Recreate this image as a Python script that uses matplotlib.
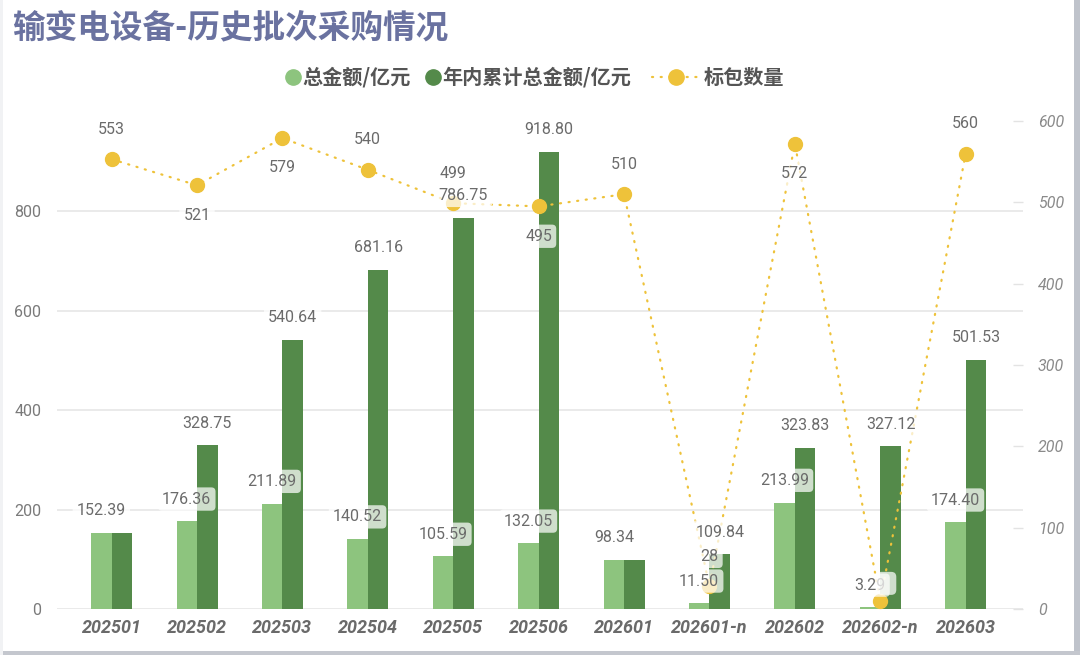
import matplotlib
matplotlib.use("Agg")
import matplotlib.pyplot as plt
from matplotlib.lines import Line2D
from matplotlib.patches import Rectangle, FancyBboxPatch
from matplotlib.transforms import ScaledTranslation
import numpy as np

plt.rcParams['font.family'] = ['Roboto', 'Noto Sans CJK SC', 'DejaVu Sans']

categories = ["202501", "202502", "202503", "202504", "202505", "202506",
              "202601", "202601-n", "202602", "202602-n", "202603"]
total_amount = [152.39, 176.36, 211.89, 140.52, 105.59, 132.05,
                98.34, 11.50, 213.99, 3.29, 174.40]
cumulative_amount = [152.39, 328.75, 540.64, 681.16, 786.75, 918.80,
                     98.34, 109.84, 323.83, 327.12, 501.53]
package_count = [553, 521, 579, 540, 499, 495, 510, 28, 572, 10, 560]
count_label_pos = ["above", "below", "below", "above", "above", "below",
                   "above", "above", "below", "hidden", "above"]

series_names = ["总金额/亿元", "年内累计总金额/亿元", "标包数量"]
title = "输变电设备-历史批次采购情况"
left_ticks = [0, 200, 400, 600, 800]
right_ticks = [0, 100, 200, 300, 400, 500, 600]

LIGHT = "#8DC47E"
DARK = "#548A4A"
YELLOW = "#EEC23A"
GRAY_TXT = "#6B6B6B"
CJK = ["Noto Sans CJK SC", "DejaVu Sans"]

W, H = 1080, 655
fig = plt.figure(figsize=(W / 100, H / 100), dpi=100)
fig.patch.set_facecolor("white")

# card shadow edges
fig.patches.append(Rectangle((1074 / W, 0), 6 / W, 1, transform=fig.transFigure,
                             facecolor="#BFC3CB", edgecolor="none", zorder=0))
fig.patches.append(Rectangle((0, 0), 1, 4 / H, transform=fig.transFigure,
                             facecolor="#C4C7CE", edgecolor="none", zorder=0))
fig.patches.append(Rectangle((0, 0), 3 / W, 1, transform=fig.transFigure,
                             facecolor="#F1F2F4", edgecolor="none", zorder=0))

ax_left, ax_right = 56.5 / W, 1022.5 / W
ax_bottom = (H - 609) / H
ax_top = (H - 121) / H
ax = fig.add_axes([ax_left, ax_bottom, ax_right - ax_left, ax_top - ax_bottom])
ax2 = ax.twinx()

x = np.arange(len(categories))
bw = 0.24
ax.bar(x - bw / 2, total_amount, width=bw, color=LIGHT, zorder=2)
ax.bar(x + bw / 2, cumulative_amount, width=bw, color=DARK, zorder=2)

ax.set_xlim(-0.645, len(categories) - 1 + 0.665)
ax.set_ylim(0, 981)
ax.set_yticks(left_ticks)
ax.grid(axis="y", color="#E6E6E6", linewidth=1.2, zorder=0)
ax.set_axisbelow(True)
for s in ax.spines.values():
    s.set_visible(False)
ax.tick_params(axis="y", length=0, pad=11, labelsize=11.5, labelcolor="#7A7A7A")
ax.set_xticks(x)
ax.set_xticklabels(categories, fontsize=13, fontweight="bold", fontstyle="italic",
                   color="#6A6A6A")
ax.tick_params(axis="x", length=0, pad=7)

# line on secondary axis
ax2.plot(x, package_count, color=YELLOW, linewidth=1.6, linestyle=(0, (0.5, 3.4)),
         dash_capstyle="round", marker="o", markersize=10, markerfacecolor=YELLOW,
         markeredgecolor=YELLOW, zorder=3)
ax2.set_ylim(0, 600)
ax2.set_yticks(right_ticks)
for s in ax2.spines.values():
    s.set_visible(False)
ax2.tick_params(axis="y", direction="in", length=7.3, width=1, color="#E3E3E3", pad=11,
                labelsize=11.5, labelcolor="#8A8A8A")
for lab in ax2.get_yticklabels():
    lab.set_fontstyle("italic")

box = dict(boxstyle="round,pad=0.26", facecolor="white", edgecolor="none", alpha=0.72)

# bar labels (drawn on ax2 so they sit above everything)
for i in range(len(categories)):
    ax2.annotate(f"{total_amount[i]:.2f}", xy=(x[i] - bw / 2, total_amount[i]),
                 xycoords=ax.transData, xytext=(0, 16), textcoords="offset points",
                 ha="center", va="center", fontsize=11.5, color=GRAY_TXT, bbox=box, zorder=5)
    if abs(cumulative_amount[i] - total_amount[i]) > 1e-9:
        ax2.annotate(f"{cumulative_amount[i]:.2f}", xy=(x[i] + bw / 2, cumulative_amount[i]),
                     xycoords=ax.transData, xytext=(0, 16), textcoords="offset points",
                     ha="center", va="center", fontsize=11.5, color=GRAY_TXT, bbox=box, zorder=5)

# line labels
for i, v in enumerate(package_count):
    pos = count_label_pos[i]
    if pos == "hidden":
        # the reference shows only an empty label backdrop here
        anchor = fig.dpi_scale_trans + ScaledTranslation(x[i], v, ax2.transData)
        ax2.add_patch(FancyBboxPatch((-0.04, 0.06), 0.2, 0.23,
                                     boxstyle="round,pad=0,rounding_size=0.05",
                                     transform=anchor, facecolor="white",
                                     edgecolor="none", alpha=0.72, zorder=5,
                                     clip_on=False))
        continue
    dy = 21.5 if pos == "above" else -21.5
    ax2.annotate(str(v), xy=(x[i], v), xytext=(0, dy), textcoords="offset points",
                 ha="center", va="center", fontsize=11.5, color=GRAY_TXT, bbox=box, zorder=5)

# title
fig.text(12 / W, 1 - 28 / H, title, fontsize=23.5, fontweight="bold", color="#6A72A0",
         ha="left", va="center", family=CJK)

# legend (manual)
ly = 1 - 77 / H
leg_font = dict(fontsize=14.5, fontweight="bold", color="#555555", va="center", ha="left",
                family=CJK)
fig.add_artist(Line2D([293 / W], [ly], marker="o", markersize=11, color=LIGHT,
                      linestyle="none", transform=fig.transFigure))
fig.text(302 / W, ly, series_names[0], **leg_font)
fig.add_artist(Line2D([433 / W], [ly], marker="o", markersize=11, color=DARK,
                      linestyle="none", transform=fig.transFigure))
fig.text(442 / W, ly, series_names[1], **leg_font)
fig.add_artist(Line2D([652 / W, 698 / W], [ly, ly], color=YELLOW, linewidth=1.6,
                      linestyle=(0, (0.5, 3.4)), dash_capstyle="round",
                      transform=fig.transFigure))
fig.add_artist(Line2D([676 / W], [ly], marker="o", markersize=11, color=YELLOW,
                      linestyle="none", transform=fig.transFigure))
fig.text(704 / W, ly, series_names[2], **leg_font)

fig.savefig("out.png", dpi=100, facecolor="white")
